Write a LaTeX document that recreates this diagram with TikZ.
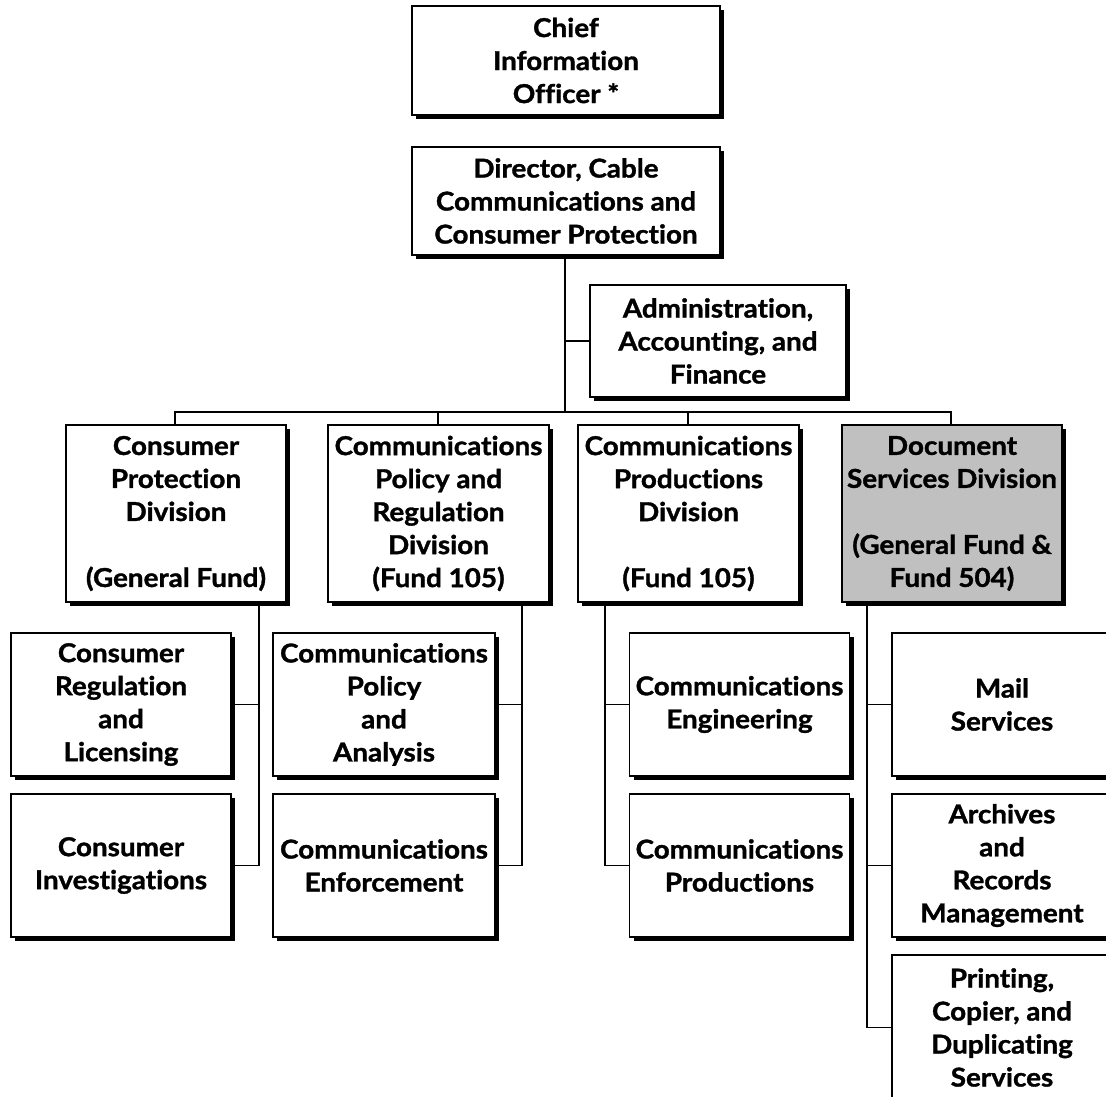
\documentclass[tikz,border=0pt]{standalone}
\usepackage{fontspec}
\setmainfont{Lato}[Ligatures={NoCommon}, BoldFeatures={FakeBold=1.3, FakeStretch=1.07}]
\usetikzlibrary{shadows}
\begin{document}
\begin{tikzpicture}[x=1pt,y=-1pt,
  orgbox/.style={draw, line width=1.4pt, fill=white, align=center, outer sep=0pt, inner sep=0pt,
    font=\fontsize{26}{33}\selectfont\bfseries,
    drop shadow={shadow xshift=4pt, shadow yshift=-4pt, fill=black, opacity=1}},
  l3box/.style={orgbox, minimum width=220pt, minimum height=143pt},
  l2box/.style={orgbox, minimum width=220pt, minimum height=177pt},
  link/.style={line width=1.4pt}
]
\useasboundingbox (0,0) rectangle (1106,1097);
\clip (0,0) rectangle (1106,1097);
\definecolor{dsgrey}{RGB}{192,192,192}

\coordinate (bus) at (0,412);
\coordinate (v1) at (259,0);
\coordinate (v2) at (522,0);
\coordinate (v3) at (605,0);
\coordinate (v4) at (867,0);
\coordinate (trunk) at (565,0);

% connectors (drawn first, behind boxes)
\coordinate (dirbot) at (565,255);
\draw[link] (dirbot) -- (trunk |- bus);
\coordinate (cpdtop) at (175,425);
\coordinate (dsdtop) at (951,425);
\draw[link] (cpdtop) |- (bus -| dsdtop) -- (dsdtop);
\coordinate (cprdtop) at (438,425);
\coordinate (prodtop) at (688,425);
\draw[link] (cprdtop) -- (cprdtop |- bus);
\draw[link] (prodtop) -- (prodtop |- bus);

% Level 0/1
\node[orgbox, minimum width=308pt, minimum height=109pt] (chief) at (566,60.5) {Chief\\Information\\Officer *};
\node[orgbox, minimum width=308pt, minimum height=108pt] (dir) at (566,201) {Director, Cable\\Communications and\\Consumer Protection};
\node[orgbox, minimum width=256pt, minimum height=112pt] (admin) at (718,341) {Administration,\\Accounting, and\\Finance};
\draw[link] (admin.west) -- (admin.west -| trunk);

% Level 2
\node[l2box] (cpd) at (176,513.5) {Consumer\\Protection\\Division\\[33pt](General Fund)};
\node[l2box, minimum width=221pt] (cprd) at (438.5,513.5) {Communications\\Policy and\\Regulation\\Division\\(Fund 105)};
\node[l2box, minimum width=221pt] (prod) at (688.5,513.5) {Communications\\Productions\\Division\\[33pt](Fund 105)};
\node[l2box, fill=dsgrey] (dsd) at (952,513.5) {Document\\Services Division\\[33pt](General Fund \&\\Fund 504)};

% Level 3
\node[l3box] (creg) at (121,704.5) {Consumer\\Regulation\\and\\Licensing};
\node[l3box] (cinv) at (121,865.5) {Consumer\\Investigations};
\node[l3box, minimum width=222pt] (cpa) at (384,704.5) {Communications\\Policy\\and\\Analysis};
\node[l3box, minimum width=222pt] (cenf) at (384,865.5) {Communications\\Enforcement};
\node[l3box] (ceng) at (739.5,704.5) {Communications\\Engineering};
\node[l3box] (cpro) at (739.5,865.5) {Communications\\Productions};
\node[l3box] (mail) at (1002,704.5) {Mail\\Services};
\node[l3box] (arch) at (1002,865.5) {Archives\\and\\Records\\Management};
\node[l3box, minimum height=145pt] (print) at (1002,1027.5) {Printing,\\Copier, and\\Duplicating\\Services};

% Level 3 connectors
\draw[link] (cinv.east) -| (v1 |- cpd.south);
\draw[link] (creg.east) -- (creg.east -| v1);
\draw[link] (cenf.east) -| (v2 |- cprd.south);
\draw[link] (cpa.east) -- (cpa.east -| v2);
\draw[link] (cpro.west) -| (v3 |- prod.south);
\draw[link] (ceng.west) -- (ceng.west -| v3);
\draw[link] (print.west) -| (v4 |- dsd.south);
\draw[link] (mail.west) -- (mail.west -| v4);
\draw[link] (arch.west) -- (arch.west -| v4);
\end{tikzpicture}
\end{document}
